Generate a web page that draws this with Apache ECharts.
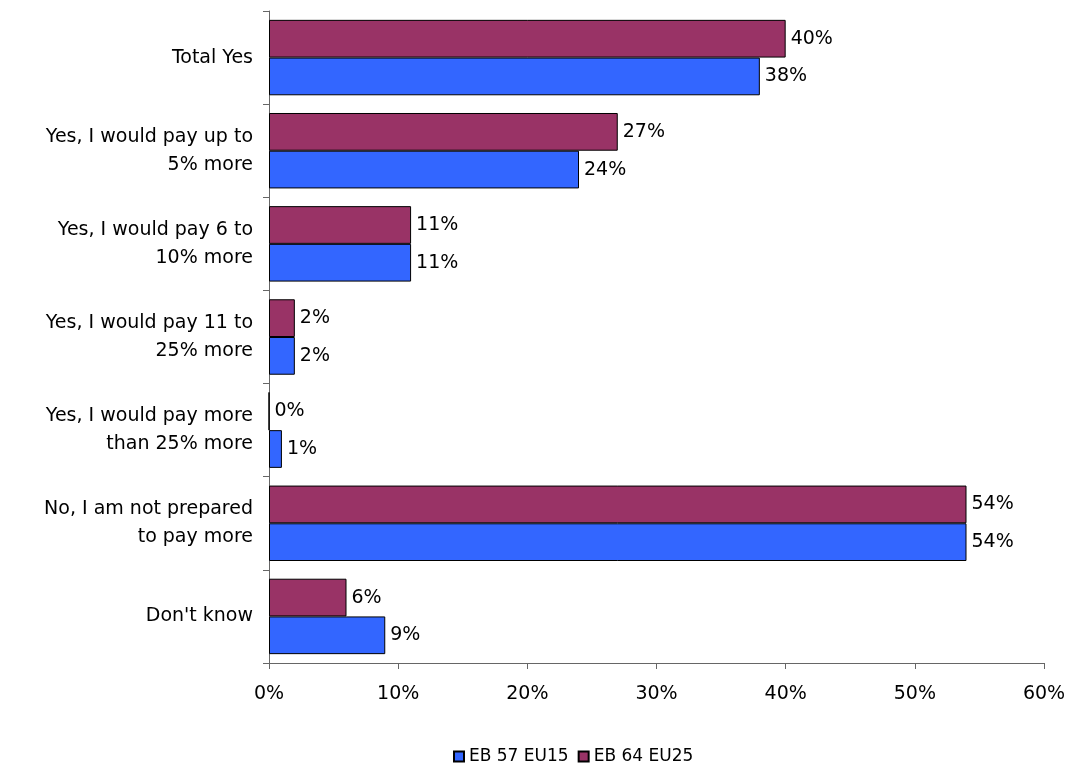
<!DOCTYPE html>
<html>
<head>
<meta charset="utf-8">
<script src="https://cdn.jsdelivr.net/npm/echarts@6/dist/echarts.min.js"></script>
<style>html,body{margin:0;padding:0;background:#fff;}#c{width:1072px;height:773px;}</style>
</head>
<body>
<div id="c"></div>
<script>
const categories = [
  "Total Yes",
  "Yes, I would pay up to\n5% more",
  "Yes, I would pay 6 to\n10% more",
  "Yes, I would pay 11 to\n25% more",
  "Yes, I would pay more\nthan 25% more",
  "No, I am not prepared\nto pay more",
  "Don't know"
];
const eb57 = [38, 24, 11, 2, 1, 54, 9];
const eb64 = [40, 27, 11, 2, 0, 54, 6];
const xTicks = [0, 10, 20, 30, 40, 50, 60];

const font = "'DejaVu Sans', Verdana, sans-serif";
const chart = echarts.init(document.getElementById('c'));
const lbl = {show: true, position: 'right', distance: 5, color: '#000', fontSize: 19, fontFamily: font, formatter: p => p.value + '%'};
chart.setOption({
  animation: false,
  grid: {left: 269, right: 28, top: 11, bottom: 110, containLabel: false},
  legend: {
    bottom: 3, left: 448,
    data: ['EB 57 EU15', 'EB 64 EU25'],
    itemWidth: 10, itemHeight: 10, itemGap: 9,
    textStyle: {fontSize: 17, fontFamily: font, color: '#000'},
    icon: 'rect'
  },
  xAxis: {
    type: 'value', min: xTicks[0], max: xTicks[xTicks.length-1], interval: 10,
    axisLine: {show: true, lineStyle: {color: '#666', width: 1}},
    axisTick: {show: true, length: 6, lineStyle: {color: '#666'}},
    splitLine: {show: false},
    axisLabel: {formatter: v => v + '%', color: '#000', fontSize: 19, fontFamily: font, margin: 22}
  },
  yAxis: {
    type: 'category', data: categories, inverse: true,
    axisLine: {show: true, lineStyle: {color: '#666', width: 1}},
    axisTick: {show: true, length: 6, lineStyle: {color: '#666'}},
    axisLabel: {color: '#000', fontSize: 19, fontFamily: font, margin: 16, align: 'right', lineHeight: 28}
  },
  series: [
    {name: 'EB 64 EU25', type: 'bar', data: eb64, barGap: '0%', barCategoryGap: '19%',
     itemStyle: {color: '#993366', borderColor: '#000', borderWidth: 1}, label: lbl},
    {name: 'EB 57 EU15', type: 'bar', data: eb57, barGap: '0%', barCategoryGap: '19%',
     itemStyle: {color: '#3366FF', borderColor: '#000', borderWidth: 1}, label: lbl}
  ]
});
</script>
</body>
</html>
